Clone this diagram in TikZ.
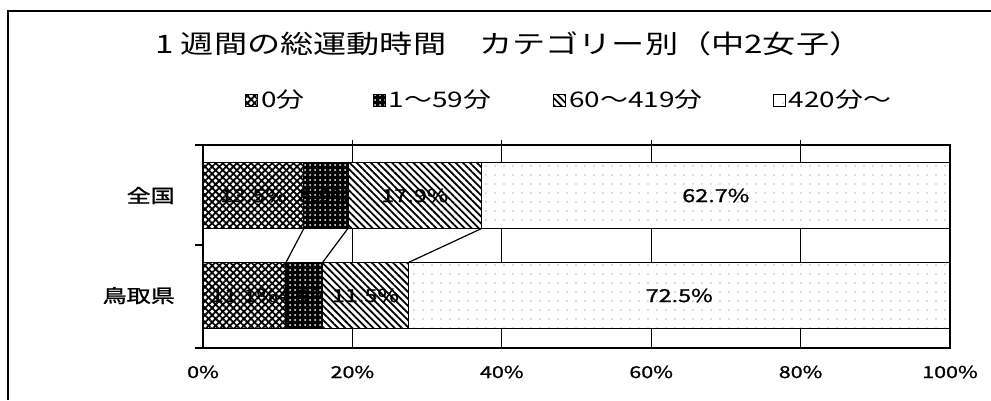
\documentclass[tikz,border=0pt]{standalone}
\usepackage{fontspec}
\setmainfont{Noto Sans CJK JP}
\newfontfamily\widefont[FakeStretch=1.3]{Noto Sans CJK JP}
\newfontfamily\widebold[FakeStretch=1.3,FakeBold=1.2]{Noto Sans CJK JP}
\usetikzlibrary{positioning,patterns.meta}
\tikzset{
    %Define fills for the four categories
    zerofill/.style={
           preaction={fill=white},
           pattern={Hatch[angle=45,distance=5pt,line width=1.8pt]}},
    fewfill/.style={
           preaction={fill=black},
           pattern={Dots[distance=5pt,radius=1pt]},
           pattern color=white},
    midfill/.style={
           preaction={fill=white},
           pattern={Lines[angle=-45,distance=5pt,line width=1.8pt]}},
    manyfill/.style={
           preaction={fill=white},
           pattern={Dots[distance=9pt,radius=0.6pt]},
           pattern color=black!55},
    %Define style for bar parts
    part/.style={
           rectangle,
           draw=black, line width=1.3pt,
           inner sep=0pt, outer sep=0pt,
           minimum height=66pt,
           anchor=west},
    every label/.style={
           inner sep=0pt,
           font=\widebold\fontsize{18}{20}\selectfont},
    %Define style for legend boxes
    keybox/.style={
           rectangle,
           draw=black, line width=0.8pt,
           minimum size=12pt,
           inner sep=0pt},
    keytext/.style={
           inner sep=0pt,
           font=\widefont\fontsize{21.5}{24}\selectfont},
    catlabel/.style={
           inner sep=0pt,
           font=\widebold\fontsize{18.5}{22}\selectfont},
    ticklabel/.style={
           inner sep=0pt,
           font=\widebold\fontsize{16.5}{18}\selectfont},
    % Define line styles
    rule/.style={line width=1.3pt},
    serie/.style={line width=1.2pt}
}

\begin{document}
\begin{tikzpicture}[x=1pt, y=-1pt]
 \useasboundingbox (0,0) rectangle (991,400);
 \draw[line width=2pt] (991,11) -- (8,11) -- (8,400);

 \node[anchor=west, inner sep=0pt, font=\widefont\fontsize{25.5}{30}\selectfont] (headline)
   at (155,44) {1 週間の総運動時間　カテゴリー別（中2女子）};

 % legend
 \node[keybox, zerofill] (k0) at (251,100) {};
 \node[keytext, right=3pt of k0] (l0) {0分};
 \node[keybox, fewfill] (k1) at (379,100) {};
 \node[keytext, right=3pt of k1] (l1) {1～59分};
 \node[keybox, midfill] (k2) at (559,100) {};
 \node[keytext, right=3pt of k2] (l2) {60～419分};
 \node[keybox, manyfill] (k3) at (779,100) {};
 \node[keytext, right=3pt of k3] (l3) {420分～};

 % axes
 \draw[rule] (203,145) rectangle (950,348);
 \foreach \p in {1,...,4}
   \draw[rule] (203+149.4*\p,140) -- (203+149.4*\p,348);
 \foreach \y in {145,245,348}
   \draw[rule] (195,\y) -- (203,\y);
 \foreach \p [evaluate=\p as \t using int(20*\p)] in {0,...,5}
   \node[ticklabel] (x\p) at (203+149.4*\p,372) {\t\%};

 % bars
 \node[part, zerofill, minimum width=13.5*7.47pt, label=center:13.5\%] (z1) at (203,195.5) {};
 \node[part, fewfill, minimum width=5.9*7.47pt, label=center:5.9\%, right=0pt of z1] (z2) {};
 \node[part, midfill, minimum width=17.9*7.47pt, label=center:17.9\%, right=0pt of z2] (z3) {};
 \node[part, manyfill, minimum width=62.7*7.47pt, label=center:62.7\%, right=0pt of z3] (z4) {};
 \node[part, zerofill, minimum width=11.1*7.47pt, label=center:11.1\%] (t1) at (203,295.5) {};
 \node[part, fewfill, minimum width=4.9*7.47pt, label=center:4.9\%, right=0pt of t1] (t2) {};
 \node[part, midfill, minimum width=11.5*7.47pt, label=center:11.5\%, right=0pt of t2] (t3) {};
 \node[part, manyfill, minimum width=72.5*7.47pt, label=center:72.5\%, right=0pt of t3] (t4) {};

 \node[catlabel, left=28pt of z1] (zenkoku) {全国};
 \node[catlabel, left=28pt of t1] (tottori) {鳥取県};

 \draw[serie] (z1.south east) -- (t1.north east);
 \draw[serie] (z2.south east) -- (t2.north east);
 \draw[serie] (z3.south east) -- (t3.north east);
\end{tikzpicture}
\end{document}
